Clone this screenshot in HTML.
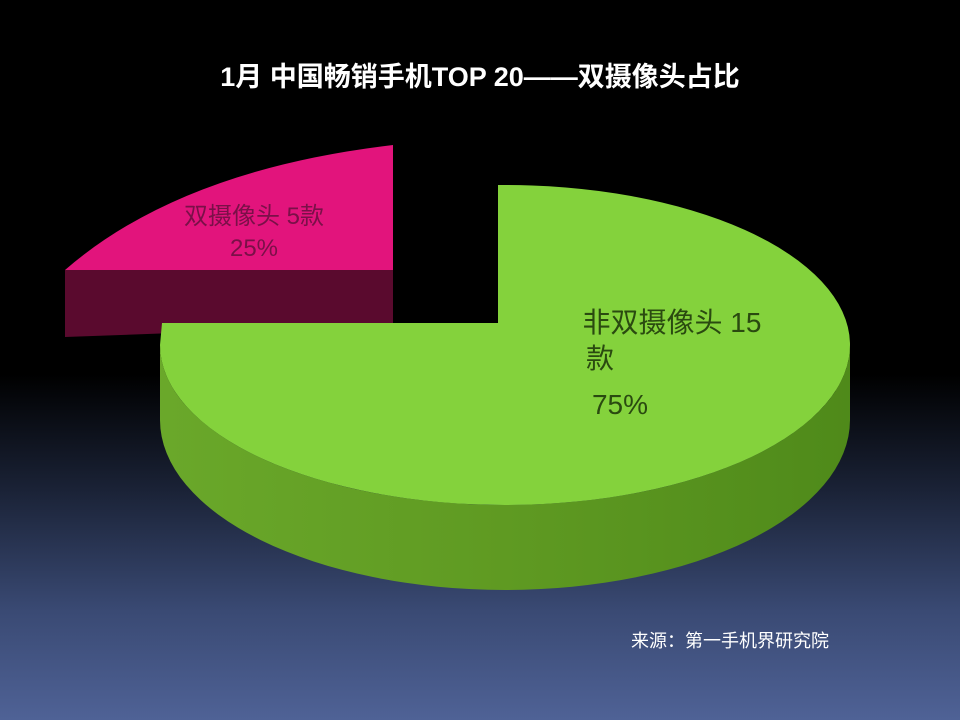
<!DOCTYPE html>
<html><head><meta charset="utf-8"><style>
html,body{margin:0;padding:0;width:960px;height:720px;overflow:hidden}
body{background:linear-gradient(to bottom,#000 0%,#000 52%,#1a2236 68%,#3a4a74 85%,#4f6296 100%);font-family:"Liberation Sans","Noto Sans CJK SC",sans-serif}
</style></head><body>
<svg width="960" height="720" style="position:absolute;left:0;top:0">
<defs>
<linearGradient id="gs" x1="0" x2="1" y1="0" y2="0">
<stop offset="0" stop-color="#6aa82a"/><stop offset="0.5" stop-color="#5f9a22"/><stop offset="1" stop-color="#4f8a1a"/>
</linearGradient>
</defs>
<path d="M65,270 L393,270 L393,325 L65,337 Z" fill="#5a0a2e"/>
<path d="M393,145 L393,270 L65,270 Q180,170 393,145 Z" fill="#e2147c"/>
<path d="M160,345 A345,160 0 0,0 850,345 L850,420 A345,170 0 0,1 160,420 Z" fill="url(#gs)"/>
<path d="M498,323 L498,185 A345,160 0 1,1 160,345 L162,323 Z" fill="#84d23c"/>
<text x="480" y="86" fill="#fff" font-size="27" font-weight="bold" text-anchor="middle">1月 中国畅销手机TOP 20——双摄像头占比</text>
<text x="254" y="224" fill="#7a1048" font-size="24" text-anchor="middle">双摄像头 5款</text>
<text x="254" y="256" fill="#7a1048" font-size="24" text-anchor="middle">25%</text>
<text x="672" y="332" fill="#2a4a10" font-size="28" text-anchor="middle">非双摄像头 15</text>
<text x="600" y="368" fill="#2a4a10" font-size="28" text-anchor="middle">款</text>
<text x="620" y="414" fill="#2a4a10" font-size="28" text-anchor="middle">75%</text>
<text x="730" y="647" fill="#fff" font-size="18" text-anchor="middle">来源：第一手机界研究院</text>
</svg>
</body></html>
